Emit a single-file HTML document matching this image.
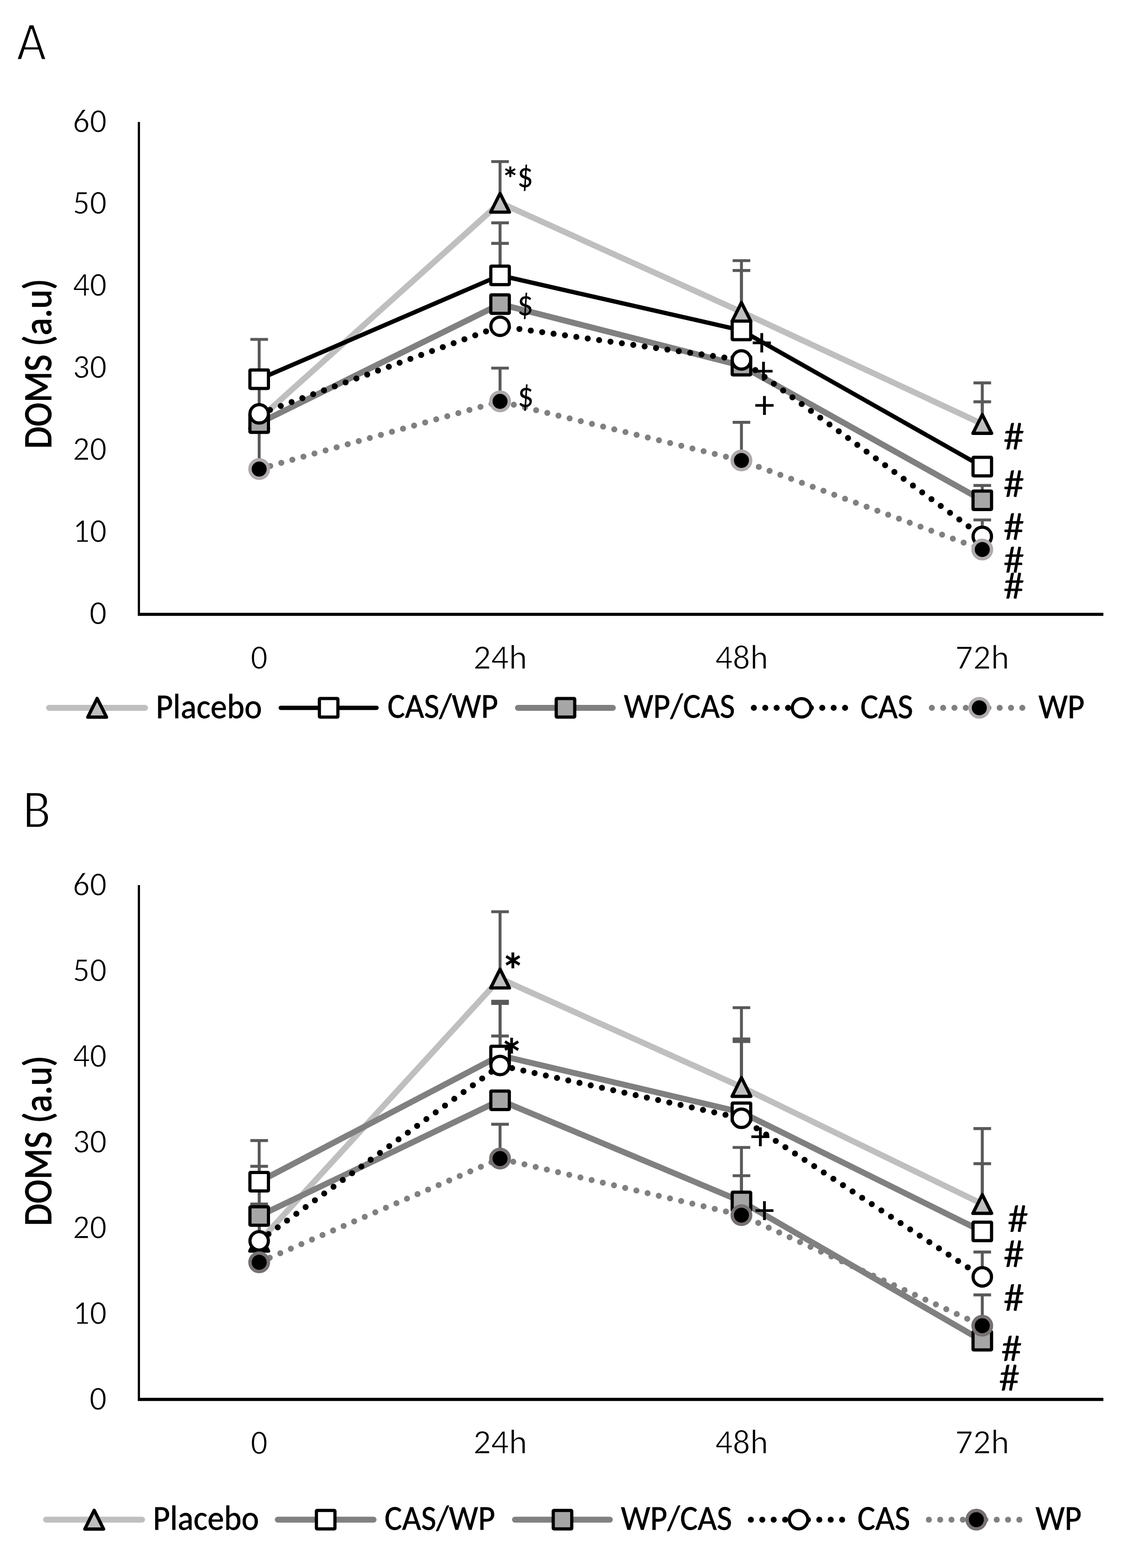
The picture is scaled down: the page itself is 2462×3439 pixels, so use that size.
<!DOCTYPE html>
<html><head><meta charset="utf-8"><title>DOMS</title>
<style>
html,body{margin:0;padding:0;background:#fff;}
body{width:2462px;height:3439px;overflow:hidden;}
svg{display:block;font-family:Carlito, 'Liberation Sans', sans-serif;font-kerning:none;}
text{fill:#000;}
</style></head>
<body>
<svg width="2462" height="3439" viewBox="0 0 2462 3439">
<rect width="2462" height="3439" fill="#fff"/>
<text x="0" y="0" font-size="112" textLength="64.80" lengthAdjust="spacingAndGlyphs" transform="translate(36.46,131.10) scale(1.0034,1.0604)" stroke="#fff" stroke-width="2.6">A</text>
<text x="0" y="0" font-size="84" textLength="393.22" lengthAdjust="spacingAndGlyphs" transform="translate(112.30,984.62) rotate(-90) scale(0.9503,1.0242)" stroke="#000" stroke-width="1.6">DOMS (a.u)</text>
<text x="0" y="0" font-size="72" textLength="36.49" lengthAdjust="spacingAndGlyphs" transform="translate(196.09,1369.20) scale(1.0427,1.0297)" stroke="#fff" stroke-width="1.4">0</text>
<text x="0" y="0" font-size="72" textLength="72.98" lengthAdjust="spacingAndGlyphs" transform="translate(159.54,1189.20) scale(1.0216,1.0297)" stroke="#fff" stroke-width="1.4">10</text>
<text x="0" y="0" font-size="72" textLength="72.98" lengthAdjust="spacingAndGlyphs" transform="translate(159.61,1009.20) scale(1.0206,1.0297)" stroke="#fff" stroke-width="1.4">20</text>
<text x="0" y="0" font-size="72" textLength="72.98" lengthAdjust="spacingAndGlyphs" transform="translate(159.61,829.20) scale(1.0207,1.0297)" stroke="#fff" stroke-width="1.4">30</text>
<text x="0" y="0" font-size="72" textLength="72.98" lengthAdjust="spacingAndGlyphs" transform="translate(159.65,649.20) scale(1.0200,1.0297)" stroke="#fff" stroke-width="1.4">40</text>
<text x="0" y="0" font-size="72" textLength="72.98" lengthAdjust="spacingAndGlyphs" transform="translate(159.61,469.20) scale(1.0206,1.0297)" stroke="#fff" stroke-width="1.4">50</text>
<text x="0" y="0" font-size="72" textLength="72.98" lengthAdjust="spacingAndGlyphs" transform="translate(159.61,290.13) scale(1.0206,1.0285)" stroke="#fff" stroke-width="1.4">60</text>
<text x="0" y="0" font-size="72" textLength="36.49" lengthAdjust="spacingAndGlyphs" transform="translate(549.40,1467.17) scale(1.0194,1.0675)" stroke="#fff" stroke-width="1.4">0</text>
<text x="0" y="0" font-size="72" textLength="110.81" lengthAdjust="spacingAndGlyphs" transform="translate(1037.44,1466.70) scale(1.0690,1.0482)" stroke="#fff" stroke-width="1.4">24h</text>
<text x="0" y="0" font-size="72" textLength="110.81" lengthAdjust="spacingAndGlyphs" transform="translate(1568.01,1466.65) scale(1.0496,1.0471)" stroke="#fff" stroke-width="1.4">48h</text>
<text x="0" y="0" font-size="72" textLength="110.81" lengthAdjust="spacingAndGlyphs" transform="translate(2094.01,1466.70) scale(1.0721,1.0482)" stroke="#fff" stroke-width="1.4">72h</text>
<line x1="304.5" y1="267.4" x2="304.5" y2="1348.4" stroke="#000" stroke-width="4.9"/>
<line x1="302" y1="1347.4" x2="2419" y2="1347.4" stroke="#000" stroke-width="6.9"/>
<polyline points="568.2,919 1096.3,444.7 1625.5,684.1 2153.5,929.8" fill="none" stroke="#BFBFBF" stroke-width="13" stroke-linejoin="round" stroke-linecap="round"/>
<polyline points="568.2,831.7 1096.3,604 1625.5,724.6 2153.5,1023.4" fill="none" stroke="#000" stroke-width="9.5" stroke-linejoin="round" stroke-linecap="round"/>
<polyline points="568.2,928 1096.3,667 1625.5,802 2153.5,1097.2" fill="none" stroke="#808080" stroke-width="13" stroke-linejoin="round" stroke-linecap="round"/>
<polyline points="568.2,907.66 1096.3,715.6 1625.5,789.4 2153.5,1176.4" fill="none" stroke="#000" stroke-width="13.2" stroke-linecap="round" stroke-dasharray="0 25.2"/>
<polyline points="568.2,1028.8 1096.3,880.3 1625.5,1009.9 2153.5,1205.2" fill="none" stroke="#808080" stroke-width="13.2" stroke-linecap="round" stroke-dasharray="0 25.2"/>
<line x1="568.2" y1="744.4" x2="568.2" y2="1028.8" stroke="#595959" stroke-width="6.4"/>
<line x1="548.9" y1="744.4" x2="587.5" y2="744.4" stroke="#595959" stroke-width="6.4"/>
<line x1="1096.3" y1="354.34" x2="1096.3" y2="444.7" stroke="#595959" stroke-width="6.4"/>
<line x1="1077" y1="354.34" x2="1115.6" y2="354.34" stroke="#595959" stroke-width="6.4"/>
<line x1="1096.3" y1="488.8" x2="1096.3" y2="604" stroke="#595959" stroke-width="6.4"/>
<line x1="1077" y1="488.8" x2="1115.6" y2="488.8" stroke="#595959" stroke-width="6.4"/>
<line x1="1096.3" y1="533.8" x2="1096.3" y2="604" stroke="#595959" stroke-width="6.4"/>
<line x1="1077" y1="533.8" x2="1115.6" y2="533.8" stroke="#595959" stroke-width="6.4"/>
<line x1="1096.3" y1="807.4" x2="1096.3" y2="880.3" stroke="#595959" stroke-width="6.4"/>
<line x1="1077" y1="807.4" x2="1115.6" y2="807.4" stroke="#595959" stroke-width="6.4"/>
<line x1="1625.5" y1="571.6" x2="1625.5" y2="684.1" stroke="#595959" stroke-width="6.4"/>
<line x1="1606.2" y1="571.6" x2="1644.8" y2="571.6" stroke="#595959" stroke-width="6.4"/>
<line x1="1625.5" y1="593.2" x2="1625.5" y2="684.1" stroke="#595959" stroke-width="6.4"/>
<line x1="1606.2" y1="593.2" x2="1644.8" y2="593.2" stroke="#595959" stroke-width="6.4"/>
<line x1="1625.5" y1="926.2" x2="1625.5" y2="1009.9" stroke="#595959" stroke-width="6.4"/>
<line x1="1606.2" y1="926.2" x2="1644.8" y2="926.2" stroke="#595959" stroke-width="6.4"/>
<line x1="2153.5" y1="839.8" x2="2153.5" y2="929.8" stroke="#595959" stroke-width="6.4"/>
<line x1="2134.2" y1="839.8" x2="2172.8" y2="839.8" stroke="#595959" stroke-width="6.4"/>
<line x1="2153.5" y1="881.2" x2="2153.5" y2="929.8" stroke="#595959" stroke-width="6.4"/>
<line x1="2134.2" y1="881.2" x2="2172.8" y2="881.2" stroke="#595959" stroke-width="6.4"/>
<line x1="2153.5" y1="1064.8" x2="2153.5" y2="1097.2" stroke="#595959" stroke-width="6.4"/>
<line x1="2134.2" y1="1064.8" x2="2172.8" y2="1064.8" stroke="#595959" stroke-width="6.4"/>
<line x1="2153.5" y1="1140.4" x2="2153.5" y2="1176.4" stroke="#595959" stroke-width="6.4"/>
<line x1="2134.2" y1="1140.4" x2="2172.8" y2="1140.4" stroke="#595959" stroke-width="6.4"/>
<polygon points="568.2,898.45 588.75,939.55 547.65,939.55" fill="#BFBFBF" stroke="#000" stroke-width="7.2" stroke-linejoin="round"/>
<polygon points="1096.3,424.15 1116.85,465.25 1075.75,465.25" fill="#BFBFBF" stroke="#000" stroke-width="7.2" stroke-linejoin="round"/>
<polygon points="1625.5,663.55 1646.05,704.65 1604.95,704.65" fill="#BFBFBF" stroke="#000" stroke-width="7.2" stroke-linejoin="round"/>
<polygon points="2153.5,909.25 2174.05,950.35 2132.95,950.35" fill="#BFBFBF" stroke="#000" stroke-width="7.2" stroke-linejoin="round"/>
<rect x="547.9" y="811.4" width="40.6" height="40.6" rx="1.5" fill="#fff" stroke="#000" stroke-width="7"/>
<rect x="1076" y="583.7" width="40.6" height="40.6" rx="1.5" fill="#fff" stroke="#000" stroke-width="7"/>
<rect x="1605.2" y="704.3" width="40.6" height="40.6" rx="1.5" fill="#fff" stroke="#000" stroke-width="7"/>
<rect x="2133.2" y="1003.1" width="40.6" height="40.6" rx="1.5" fill="#fff" stroke="#000" stroke-width="7"/>
<rect x="547.9" y="907.7" width="40.6" height="40.6" rx="1.5" fill="#A6A6A6" stroke="#000" stroke-width="7"/>
<rect x="1076" y="646.7" width="40.6" height="40.6" rx="1.5" fill="#A6A6A6" stroke="#000" stroke-width="7"/>
<rect x="1605.2" y="781.7" width="40.6" height="40.6" rx="1.5" fill="#A6A6A6" stroke="#000" stroke-width="7"/>
<rect x="2133.2" y="1076.9" width="40.6" height="40.6" rx="1.5" fill="#A6A6A6" stroke="#000" stroke-width="7"/>
<circle cx="568.2" cy="907.66" r="20.2" fill="#fff" stroke="#000" stroke-width="7"/>
<circle cx="1096.3" cy="715.6" r="20.2" fill="#fff" stroke="#000" stroke-width="7"/>
<circle cx="1625.5" cy="789.4" r="20.2" fill="#fff" stroke="#000" stroke-width="7"/>
<circle cx="2153.5" cy="1176.4" r="20.2" fill="#fff" stroke="#000" stroke-width="7"/>
<circle cx="568.2" cy="1028.8" r="20.2" fill="#000" stroke="#AFABAB" stroke-width="7.5"/>
<circle cx="1096.3" cy="880.3" r="20.2" fill="#000" stroke="#AFABAB" stroke-width="7.5"/>
<circle cx="1625.5" cy="1009.9" r="20.2" fill="#000" stroke="#AFABAB" stroke-width="7.5"/>
<circle cx="2153.5" cy="1205.2" r="20.2" fill="#000" stroke="#AFABAB" stroke-width="7.5"/>
<text x="0" y="0" font-size="80" textLength="39.84" lengthAdjust="spacingAndGlyphs" transform="translate(1099.39,418.30) scale(0.9688,0.9260)" stroke="#000" stroke-width="1.2">*</text>
<text x="0" y="0" font-size="80" textLength="40.55" lengthAdjust="spacingAndGlyphs" transform="translate(1134.09,410.41) scale(0.8640,0.9756)">$</text>
<text x="0" y="0" font-size="80" textLength="40.55" lengthAdjust="spacingAndGlyphs" transform="translate(1133.96,691.14) scale(0.8704,0.9722)">$</text>
<text x="0" y="0" font-size="80" textLength="40.55" lengthAdjust="spacingAndGlyphs" transform="translate(1134.74,892.31) scale(0.8736,0.9756)">$</text>
<text x="0" y="0" font-size="80" textLength="39.84" lengthAdjust="spacingAndGlyphs" transform="translate(1648.13,780.25) scale(1.0975,1.1197)">+</text>
<text x="0" y="0" font-size="80" textLength="39.84" lengthAdjust="spacingAndGlyphs" transform="translate(1652.12,842.13) scale(1.1003,1.1170)">+</text>
<text x="0" y="0" font-size="80" textLength="39.84" lengthAdjust="spacingAndGlyphs" transform="translate(1654.01,916.93) scale(1.1058,1.1170)">+</text>
<text x="0" y="0" font-size="80" textLength="39.84" lengthAdjust="spacingAndGlyphs" transform="translate(2199.64,985.60) scale(1.1502,1.0718)">#</text>
<text x="0" y="0" font-size="80" textLength="39.84" lengthAdjust="spacingAndGlyphs" transform="translate(2199.64,1090.00) scale(1.1502,1.0718)">#</text>
<text x="0" y="0" font-size="80" textLength="39.84" lengthAdjust="spacingAndGlyphs" transform="translate(2199.64,1184.00) scale(1.1502,1.0718)">#</text>
<text x="0" y="0" font-size="80" textLength="39.84" lengthAdjust="spacingAndGlyphs" transform="translate(2199.64,1255.50) scale(1.1502,1.0644)">#</text>
<text x="0" y="0" font-size="80" textLength="39.84" lengthAdjust="spacingAndGlyphs" transform="translate(2199.64,1313.30) scale(1.1502,1.0644)">#</text>
<line x1="107.5" y1="1552.4" x2="318" y2="1552.4" fill="none" stroke="#BFBFBF" stroke-width="13" stroke-linejoin="round" stroke-linecap="round"/>
<polygon points="213,1531.85 233.55,1572.95 192.45,1572.95" fill="#BFBFBF" stroke="#000" stroke-width="7.2" stroke-linejoin="round"/>
<text x="0" y="0" font-size="76" textLength="243.07" lengthAdjust="spacingAndGlyphs" transform="translate(341.83,1574.65) scale(0.9562,0.9939)" stroke="#000" stroke-width="0.8">Placebo</text>
<line x1="615.5" y1="1552.4" x2="825.5" y2="1552.4" fill="none" stroke="#000" stroke-width="9.5" stroke-linejoin="round" stroke-linecap="round"/>
<rect x="700.2" y="1532.1" width="40.6" height="40.6" rx="1.5" fill="#fff" stroke="#000" stroke-width="7"/>
<text x="0" y="0" font-size="76" textLength="255.65" lengthAdjust="spacingAndGlyphs" transform="translate(849.54,1574.40) scale(0.9482,1.0008)" stroke="#000" stroke-width="0.8">CAS/WP</text>
<line x1="1135.5" y1="1552.4" x2="1343.5" y2="1552.4" fill="none" stroke="#808080" stroke-width="13" stroke-linejoin="round" stroke-linecap="round"/>
<rect x="1219.4" y="1532.1" width="40.6" height="40.6" rx="1.5" fill="#A6A6A6" stroke="#000" stroke-width="7"/>
<text x="0" y="0" font-size="76" textLength="255.65" lengthAdjust="spacingAndGlyphs" transform="translate(1367.68,1574.40) scale(0.9524,1.0008)" stroke="#000" stroke-width="0.8">WP/CAS</text>
<line x1="1652.7" y1="1552.4" x2="1852.9" y2="1552.4" fill="none" stroke="#000" stroke-width="13.2" stroke-linecap="round" stroke-dasharray="0 25.0"/>
<circle cx="1757.3" cy="1552.4" r="20.2" fill="#fff" stroke="#000" stroke-width="7"/>
<text x="0" y="0" font-size="76" textLength="119.42" lengthAdjust="spacingAndGlyphs" transform="translate(1886.29,1574.58) scale(0.9680,1.0093)" stroke="#000" stroke-width="0.8">CAS</text>
<line x1="2042.9" y1="1552.4" x2="2241.4" y2="1552.4" fill="none" stroke="#808080" stroke-width="13.2" stroke-linecap="round" stroke-dasharray="0 24.8"/>
<circle cx="2147" cy="1552.4" r="20.2" fill="#000" stroke="#AFABAB" stroke-width="7.5"/>
<text x="0" y="0" font-size="76" textLength="106.88" lengthAdjust="spacingAndGlyphs" transform="translate(2276.68,1574.60) scale(0.9457,1.0090)" stroke="#000" stroke-width="0.8">WP</text>
<text x="0" y="0" font-size="112" textLength="60.92" lengthAdjust="spacingAndGlyphs" transform="translate(49.63,1815.20) scale(1.0117,1.0646)" stroke="#fff" stroke-width="2.6">B</text>
<text x="0" y="0" font-size="84" textLength="393.22" lengthAdjust="spacingAndGlyphs" transform="translate(112.30,2689.02) rotate(-90) scale(0.9513,1.0242)" stroke="#000" stroke-width="1.6">DOMS (a.u)</text>
<text x="0" y="0" font-size="72" textLength="36.49" lengthAdjust="spacingAndGlyphs" transform="translate(196.09,3091.50) scale(1.0427,1.0297)" stroke="#fff" stroke-width="1.4">0</text>
<text x="0" y="0" font-size="72" textLength="72.98" lengthAdjust="spacingAndGlyphs" transform="translate(159.54,2903.50) scale(1.0216,1.0297)" stroke="#fff" stroke-width="1.4">10</text>
<text x="0" y="0" font-size="72" textLength="72.98" lengthAdjust="spacingAndGlyphs" transform="translate(159.61,2715.50) scale(1.0206,1.0297)" stroke="#fff" stroke-width="1.4">20</text>
<text x="0" y="0" font-size="72" textLength="72.98" lengthAdjust="spacingAndGlyphs" transform="translate(159.61,2527.50) scale(1.0207,1.0297)" stroke="#fff" stroke-width="1.4">30</text>
<text x="0" y="0" font-size="72" textLength="72.98" lengthAdjust="spacingAndGlyphs" transform="translate(159.65,2339.50) scale(1.0200,1.0297)" stroke="#fff" stroke-width="1.4">40</text>
<text x="0" y="0" font-size="72" textLength="72.98" lengthAdjust="spacingAndGlyphs" transform="translate(159.61,2151.50) scale(1.0206,1.0297)" stroke="#fff" stroke-width="1.4">50</text>
<text x="0" y="0" font-size="72" textLength="72.98" lengthAdjust="spacingAndGlyphs" transform="translate(159.61,1964.43) scale(1.0206,1.0285)" stroke="#fff" stroke-width="1.4">60</text>
<text x="0" y="0" font-size="72" textLength="36.49" lengthAdjust="spacingAndGlyphs" transform="translate(549.40,3188.57) scale(1.0194,1.0675)" stroke="#fff" stroke-width="1.4">0</text>
<text x="0" y="0" font-size="72" textLength="110.81" lengthAdjust="spacingAndGlyphs" transform="translate(1037.44,3188.10) scale(1.0690,1.0482)" stroke="#fff" stroke-width="1.4">24h</text>
<text x="0" y="0" font-size="72" textLength="110.81" lengthAdjust="spacingAndGlyphs" transform="translate(1568.01,3188.05) scale(1.0496,1.0471)" stroke="#fff" stroke-width="1.4">48h</text>
<text x="0" y="0" font-size="72" textLength="110.81" lengthAdjust="spacingAndGlyphs" transform="translate(2094.01,3188.10) scale(1.0721,1.0482)" stroke="#fff" stroke-width="1.4">72h</text>
<line x1="304.5" y1="1941.3" x2="304.5" y2="3070.3" stroke="#000" stroke-width="4.9"/>
<line x1="302" y1="3069.3" x2="2419" y2="3069.3" stroke="#000" stroke-width="6.9"/>
<polyline points="568.2,2723.38 1096.3,2146.22 1625.5,2384.04 2153.5,2640.66" fill="none" stroke="#BFBFBF" stroke-width="13" stroke-linejoin="round" stroke-linecap="round"/>
<polyline points="568.2,2591.78 1096.3,2315.04 1625.5,2439.5 2153.5,2700.82" fill="none" stroke="#808080" stroke-width="13" stroke-linejoin="round" stroke-linecap="round"/>
<polyline points="568.2,2666.98 1096.3,2413.18 1625.5,2635.02 2153.5,2940.52" fill="none" stroke="#808080" stroke-width="13" stroke-linejoin="round" stroke-linecap="round"/>
<polyline points="568.2,2721.5 1096.3,2336.85 1625.5,2452.66 2153.5,2800.46" fill="none" stroke="#000" stroke-width="13.2" stroke-linecap="round" stroke-dasharray="0 25.2"/>
<polyline points="568.2,2768.5 1096.3,2541.02 1625.5,2665.1 2153.5,2907.62" fill="none" stroke="#808080" stroke-width="13.2" stroke-linecap="round" stroke-dasharray="0 25.2"/>
<line x1="568.2" y1="2501.54" x2="568.2" y2="2768.5" stroke="#595959" stroke-width="6.4"/>
<line x1="548.9" y1="2501.54" x2="587.5" y2="2501.54" stroke="#595959" stroke-width="6.4"/>
<line x1="568.2" y1="2557.94" x2="568.2" y2="2768.5" stroke="#595959" stroke-width="6.4"/>
<line x1="548.9" y1="2557.94" x2="587.5" y2="2557.94" stroke="#595959" stroke-width="6.4"/>
<line x1="568.2" y1="2640.66" x2="568.2" y2="2768.5" stroke="#595959" stroke-width="6.4"/>
<line x1="548.9" y1="2640.66" x2="587.5" y2="2640.66" stroke="#595959" stroke-width="6.4"/>
<line x1="1096.3" y1="1999.58" x2="1096.3" y2="2146.22" stroke="#595959" stroke-width="6.4"/>
<line x1="1077" y1="1999.58" x2="1115.6" y2="1999.58" stroke="#595959" stroke-width="6.4"/>
<line x1="1096.3" y1="2196.04" x2="1096.3" y2="2315.42" stroke="#595959" stroke-width="6.4"/>
<line x1="1077" y1="2196.04" x2="1115.6" y2="2196.04" stroke="#595959" stroke-width="6.4"/>
<line x1="1096.3" y1="2200.74" x2="1096.3" y2="2315.42" stroke="#595959" stroke-width="6.4"/>
<line x1="1077" y1="2200.74" x2="1115.6" y2="2200.74" stroke="#595959" stroke-width="6.4"/>
<line x1="1096.3" y1="2272.18" x2="1096.3" y2="2315.42" stroke="#595959" stroke-width="6.4"/>
<line x1="1077" y1="2272.18" x2="1115.6" y2="2272.18" stroke="#595959" stroke-width="6.4"/>
<line x1="1096.3" y1="2465.82" x2="1096.3" y2="2541.02" stroke="#595959" stroke-width="6.4"/>
<line x1="1077" y1="2465.82" x2="1115.6" y2="2465.82" stroke="#595959" stroke-width="6.4"/>
<line x1="1625.5" y1="2210.14" x2="1625.5" y2="2384.04" stroke="#595959" stroke-width="6.4"/>
<line x1="1606.2" y1="2210.14" x2="1644.8" y2="2210.14" stroke="#595959" stroke-width="6.4"/>
<line x1="1625.5" y1="2278.76" x2="1625.5" y2="2384.04" stroke="#595959" stroke-width="6.4"/>
<line x1="1606.2" y1="2278.76" x2="1644.8" y2="2278.76" stroke="#595959" stroke-width="6.4"/>
<line x1="1625.5" y1="2284.4" x2="1625.5" y2="2384.04" stroke="#595959" stroke-width="6.4"/>
<line x1="1606.2" y1="2284.4" x2="1644.8" y2="2284.4" stroke="#595959" stroke-width="6.4"/>
<line x1="1625.5" y1="2516.58" x2="1625.5" y2="2665.1" stroke="#595959" stroke-width="6.4"/>
<line x1="1606.2" y1="2516.58" x2="1644.8" y2="2516.58" stroke="#595959" stroke-width="6.4"/>
<line x1="1625.5" y1="2578.62" x2="1625.5" y2="2665.1" stroke="#595959" stroke-width="6.4"/>
<line x1="1606.2" y1="2578.62" x2="1644.8" y2="2578.62" stroke="#595959" stroke-width="6.4"/>
<line x1="2153.5" y1="2475.22" x2="2153.5" y2="2640.66" stroke="#595959" stroke-width="6.4"/>
<line x1="2134.2" y1="2475.22" x2="2172.8" y2="2475.22" stroke="#595959" stroke-width="6.4"/>
<line x1="2153.5" y1="2552.3" x2="2153.5" y2="2640.66" stroke="#595959" stroke-width="6.4"/>
<line x1="2134.2" y1="2552.3" x2="2172.8" y2="2552.3" stroke="#595959" stroke-width="6.4"/>
<line x1="2153.5" y1="2745.94" x2="2153.5" y2="2800.46" stroke="#595959" stroke-width="6.4"/>
<line x1="2134.2" y1="2745.94" x2="2172.8" y2="2745.94" stroke="#595959" stroke-width="6.4"/>
<line x1="2153.5" y1="2839.94" x2="2153.5" y2="2907.62" stroke="#595959" stroke-width="6.4"/>
<line x1="2134.2" y1="2839.94" x2="2172.8" y2="2839.94" stroke="#595959" stroke-width="6.4"/>
<polygon points="568.2,2702.83 588.75,2743.93 547.65,2743.93" fill="#BFBFBF" stroke="#000" stroke-width="7.2" stroke-linejoin="round"/>
<polygon points="1096.3,2125.67 1116.85,2166.77 1075.75,2166.77" fill="#BFBFBF" stroke="#000" stroke-width="7.2" stroke-linejoin="round"/>
<polygon points="1625.5,2363.49 1646.05,2404.59 1604.95,2404.59" fill="#BFBFBF" stroke="#000" stroke-width="7.2" stroke-linejoin="round"/>
<polygon points="2153.5,2620.11 2174.05,2661.21 2132.95,2661.21" fill="#BFBFBF" stroke="#000" stroke-width="7.2" stroke-linejoin="round"/>
<rect x="547.9" y="2571.48" width="40.6" height="40.6" rx="1.5" fill="#fff" stroke="#000" stroke-width="7"/>
<rect x="1076" y="2294.74" width="40.6" height="40.6" rx="1.5" fill="#fff" stroke="#000" stroke-width="7"/>
<rect x="1605.2" y="2419.2" width="40.6" height="40.6" rx="1.5" fill="#fff" stroke="#000" stroke-width="7"/>
<rect x="2133.2" y="2680.52" width="40.6" height="40.6" rx="1.5" fill="#fff" stroke="#000" stroke-width="7"/>
<rect x="547.9" y="2646.68" width="40.6" height="40.6" rx="1.5" fill="#A6A6A6" stroke="#000" stroke-width="7"/>
<rect x="1076" y="2392.88" width="40.6" height="40.6" rx="1.5" fill="#A6A6A6" stroke="#000" stroke-width="7"/>
<rect x="1605.2" y="2614.72" width="40.6" height="40.6" rx="1.5" fill="#A6A6A6" stroke="#000" stroke-width="7"/>
<rect x="2133.2" y="2920.22" width="40.6" height="40.6" rx="1.5" fill="#A6A6A6" stroke="#000" stroke-width="7"/>
<circle cx="568.2" cy="2721.5" r="20.2" fill="#fff" stroke="#000" stroke-width="7"/>
<circle cx="1096.3" cy="2336.85" r="20.2" fill="#fff" stroke="#000" stroke-width="7"/>
<circle cx="1625.5" cy="2452.66" r="20.2" fill="#fff" stroke="#000" stroke-width="7"/>
<circle cx="2153.5" cy="2800.46" r="20.2" fill="#fff" stroke="#000" stroke-width="7"/>
<circle cx="568.2" cy="2768.5" r="20.2" fill="#000" stroke="#767171" stroke-width="7.5"/>
<circle cx="1096.3" cy="2541.02" r="20.2" fill="#000" stroke="#767171" stroke-width="7.5"/>
<circle cx="1625.5" cy="2665.1" r="20.2" fill="#000" stroke="#767171" stroke-width="7.5"/>
<circle cx="2153.5" cy="2907.62" r="20.2" fill="#000" stroke="#767171" stroke-width="7.5"/>
<text x="0" y="0" font-size="80" textLength="39.84" lengthAdjust="spacingAndGlyphs" transform="translate(1098.04,2166.54) scale(1.3282,1.3582)" stroke="#000" stroke-width="1.2">*</text>
<text x="0" y="0" font-size="80" textLength="39.84" lengthAdjust="spacingAndGlyphs" transform="translate(1095.45,2354.21) scale(1.3151,1.3664)" stroke="#000" stroke-width="1.2">*</text>
<text x="0" y="0" font-size="80" textLength="39.84" lengthAdjust="spacingAndGlyphs" transform="translate(1645.14,2521.01) scale(1.0920,1.1143)">+</text>
<text x="0" y="0" font-size="80" textLength="39.84" lengthAdjust="spacingAndGlyphs" transform="translate(1654.24,2682.60) scale(1.0920,1.1116)">+</text>
<text x="0" y="0" font-size="80" textLength="39.84" lengthAdjust="spacingAndGlyphs" transform="translate(2208.75,2702.00) scale(1.1475,1.0810)">#</text>
<text x="0" y="0" font-size="80" textLength="39.84" lengthAdjust="spacingAndGlyphs" transform="translate(2199.64,2778.70) scale(1.1530,1.0699)">#</text>
<text x="0" y="0" font-size="80" textLength="39.84" lengthAdjust="spacingAndGlyphs" transform="translate(2199.64,2874.80) scale(1.1530,1.0699)">#</text>
<text x="0" y="0" font-size="80" textLength="39.84" lengthAdjust="spacingAndGlyphs" transform="translate(2194.84,2985.20) scale(1.1502,1.0403)">#</text>
<text x="0" y="0" font-size="80" textLength="39.84" lengthAdjust="spacingAndGlyphs" transform="translate(2189.85,3049.70) scale(1.1475,1.0532)">#</text>
<line x1="101" y1="3333" x2="311.5" y2="3333" fill="none" stroke="#BFBFBF" stroke-width="13" stroke-linejoin="round" stroke-linecap="round"/>
<polygon points="206.5,3312.45 227.05,3353.55 185.95,3353.55" fill="#BFBFBF" stroke="#000" stroke-width="7.2" stroke-linejoin="round"/>
<text x="0" y="0" font-size="76" textLength="243.07" lengthAdjust="spacingAndGlyphs" transform="translate(335.33,3355.25) scale(0.9562,0.9939)" stroke="#000" stroke-width="0.8">Placebo</text>
<line x1="609" y1="3333" x2="819" y2="3333" fill="none" stroke="#808080" stroke-width="13" stroke-linejoin="round" stroke-linecap="round"/>
<rect x="693.7" y="3312.7" width="40.6" height="40.6" rx="1.5" fill="#fff" stroke="#000" stroke-width="7"/>
<text x="0" y="0" font-size="76" textLength="255.65" lengthAdjust="spacingAndGlyphs" transform="translate(843.04,3355.00) scale(0.9482,1.0008)" stroke="#000" stroke-width="0.8">CAS/WP</text>
<line x1="1129" y1="3333" x2="1337" y2="3333" fill="none" stroke="#808080" stroke-width="13" stroke-linejoin="round" stroke-linecap="round"/>
<rect x="1212.9" y="3312.7" width="40.6" height="40.6" rx="1.5" fill="#A6A6A6" stroke="#000" stroke-width="7"/>
<text x="0" y="0" font-size="76" textLength="255.65" lengthAdjust="spacingAndGlyphs" transform="translate(1361.18,3355.00) scale(0.9524,1.0008)" stroke="#000" stroke-width="0.8">WP/CAS</text>
<line x1="1646.2" y1="3333" x2="1846.4" y2="3333" fill="none" stroke="#000" stroke-width="13.2" stroke-linecap="round" stroke-dasharray="0 25.0"/>
<circle cx="1750.8" cy="3333" r="20.2" fill="#fff" stroke="#000" stroke-width="7"/>
<text x="0" y="0" font-size="76" textLength="119.42" lengthAdjust="spacingAndGlyphs" transform="translate(1879.79,3355.18) scale(0.9680,1.0093)" stroke="#000" stroke-width="0.8">CAS</text>
<line x1="2036.4" y1="3333" x2="2234.9" y2="3333" fill="none" stroke="#808080" stroke-width="13.2" stroke-linecap="round" stroke-dasharray="0 24.8"/>
<circle cx="2140.5" cy="3333" r="20.2" fill="#000" stroke="#767171" stroke-width="7.5"/>
<text x="0" y="0" font-size="76" textLength="106.88" lengthAdjust="spacingAndGlyphs" transform="translate(2270.18,3355.20) scale(0.9457,1.0090)" stroke="#000" stroke-width="0.8">WP</text>
</svg>
</body></html>
